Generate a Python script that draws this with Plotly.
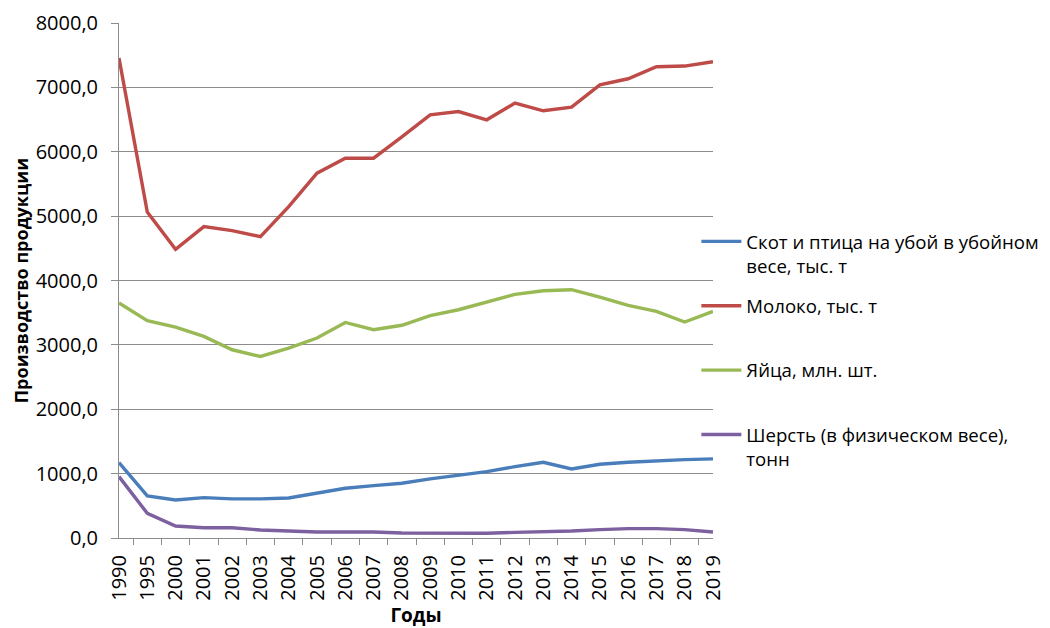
import plotly.graph_objects as go

years = ["1990", "1995", "2000", "2001", "2002", "2003", "2004", "2005", "2006", "2007", "2008",
         "2009", "2010", "2011", "2012", "2013", "2014", "2015", "2016", "2017", "2018", "2019"]

skot = [1171, 653, 591, 627, 607, 607, 622, 695, 773, 814, 851,
        918, 969, 1031, 1109, 1177, 1073, 1146, 1177, 1202, 1218, 1229]
moloko = [7456, 5065, 4485, 4837, 4775, 4681, 5148, 5667, 5900, 5900, 6230,
          6574, 6625, 6496, 6756, 6636, 6693, 7040, 7134, 7320, 7331, 7398]
yaica = [3650, 3375, 3277, 3131, 2924, 2820, 2950, 3106, 3348, 3235, 3305,
         3453, 3546, 3665, 3784, 3841, 3857, 3743, 3613, 3520, 3355, 3520]
sherst = [953, 384, 187, 160, 160, 124, 109, 93, 93, 93, 78,
          73, 73, 73, 88, 93, 109, 130, 145, 145, 130, 93]

names = ["Скот и птица на убой в убойном<br>весе, тыс. т",
         "Молоко, тыс. т<br>\u00a0",
         "Яйца, млн. шт.<br>\u00a0",
         "Шерсть (в физическом весе),<br>тонн"]
colors = ["#4A7EBB", "#BE4B48", "#98B954", "#7D60A0"]
series = [skot, moloko, yaica, sherst]

fig = go.Figure()
for i, (nm, col, vals) in enumerate(zip(names, colors, series)):
    fig.add_trace(go.Scatter(
        x=years, y=vals, mode="lines", name=nm,
        line=dict(color=col, width=3.4),
        legendgroup=str(i),
    ))

font_family = "Open Sans, DejaVu Sans, sans-serif"
grid_col = "#8C8C8C"

fig.update_layout(
    width=1042, height=620,
    paper_bgcolor="white", plot_bgcolor="white",
    margin=dict(l=111, r=337, t=15, b=90, autoexpand=False),
    separators=", ",
    font=dict(family=font_family, size=19, color="black"),
    showlegend=True,
    legend=dict(
        x=0.972, y=0.612, xanchor="left", yanchor="top",
        font=dict(size=18.6, color="black"),
        valign="top", traceorder="grouped", tracegroupgap=13,
        itemwidth=40, bgcolor="rgba(0,0,0,0)",
    ),
    xaxis=dict(
        type="category", automargin=False,
        showline=True, linecolor=grid_col, linewidth=1,
        ticks="outside", tickson="boundaries", ticklen=6, tickcolor=grid_col,
        tickangle=-90, tickfont=dict(size=20),
        ticklabelstandoff=8,
        showgrid=False,
        title=dict(text="<b>Годы</b>", font=dict(size=19), standoff=8),
    ),
    yaxis=dict(
        range=[0, 8000], dtick=1000, tickformat=".1f", automargin=False,
        showline=True, linecolor=grid_col, linewidth=1,
        ticks="outside", ticklen=7, tickcolor=grid_col,
        showgrid=True, gridcolor=grid_col, gridwidth=1,
        zeroline=False,
        tickfont=dict(size=20),
        ticklabelstandoff=9,
        title=dict(text="<b>Производство продукции</b>", font=dict(size=18), standoff=2),
    ),
)

fig.write_html("out.html")
